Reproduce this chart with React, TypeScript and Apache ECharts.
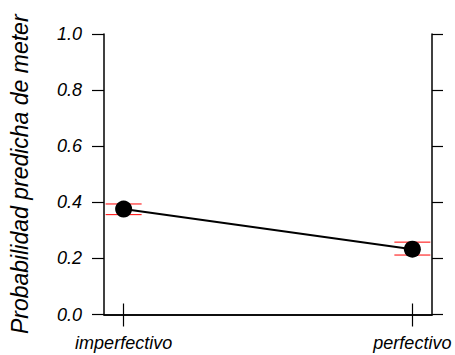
import React, { useEffect, useRef } from "react";
import * as echarts from "echarts";

// Predicted probability of "meter" by aspect, with confidence limits
const categories = ["imperfectivo", "perfectivo"];
const fitted = [0.376, 0.233];
const upper = [0.394, 0.258];
const lower = [0.356, 0.212];
const yTicks = [0, 0.2, 0.4, 0.6, 0.8, 1.0];

const FONT = "Liberation Sans, Arial, Helvetica, sans-serif";

export default function App() {
  const ref = useRef<HTMLDivElement>(null);

  useEffect(() => {
    if (!ref.current) return;
    const chart = echarts.init(ref.current, null, { renderer: "svg" });
    const xPos = categories.map((_, i) => i + 1);

    const tickStyle = { show: true, inside: false, lineStyle: { color: "#000", width: 1.2 } };
    const lineStyle = { show: true, lineStyle: { color: "#000", width: 1.5 } };

    chart.setOption({
      animation: false,
      backgroundColor: "#fff",
      grid: { left: 99, right: 23, top: 34, bottom: 40.5, containLabel: false },
      xAxis: [
        {
          type: "value",
          position: "bottom",
          min: 0.932,
          max: 2.068,
          axisLine: lineStyle,
          splitLine: { show: false },
          axisTick: { ...tickStyle, length: 12, customValues: xPos },
          axisLabel: {
            customValues: xPos,
            margin: 19,
            fontFamily: FONT,
            fontSize: 18,
            fontStyle: "italic",
            color: "#000",
            formatter: (v: number) => categories[Math.round(v) - 1] ?? "",
          },
        },
        {
          type: "value",
          position: "top",
          min: 0.932,
          max: 2.068,
          axisLine: lineStyle,
          splitLine: { show: false },
          axisTick: { ...tickStyle, length: 11, customValues: xPos },
          axisLabel: { show: false },
        },
      ],
      yAxis: [
        {
          type: "value",
          position: "left",
          min: 0,
          max: 1,
          interval: 0.2,
          name: "Probabilidad predicha de meter",
          nameLocation: "middle",
          nameGap: 73,
          nameTextStyle: {
            fontFamily: FONT,
            fontSize: 23,
            fontStyle: "italic",
            color: "#000",
          },
          axisLine: lineStyle,
          splitLine: { show: false },
          axisTick: { ...tickStyle, length: 12, customValues: yTicks },
          axisLabel: {
            margin: 22,
            fontFamily: FONT,
            fontSize: 18,
            fontStyle: "italic",
            color: "#000",
            formatter: (v: number) => v.toFixed(1),
          },
        },
        {
          type: "value",
          position: "right",
          min: 0,
          max: 1,
          interval: 0.2,
          axisLine: lineStyle,
          splitLine: { show: false },
          axisTick: { ...tickStyle, length: 11 },
          axisLabel: { show: false },
        },
      ],
      series: [
        {
          type: "custom",
          z: 1,
          data: xPos.map((x, i) => [x, lower[i], upper[i]]),
          renderItem: (params: any, api: any) => {
            const x = api.value(0);
            const lo = api.coord([x, api.value(1)]);
            const hi = api.coord([x, api.value(2)]);
            const hw = 18;
            const style = { stroke: "#ff0000", lineWidth: 1 };
            return {
              type: "group",
              children: [
                { type: "line", shape: { x1: lo[0] - hw, y1: lo[1], x2: lo[0] + hw, y2: lo[1] }, style },
                { type: "line", shape: { x1: hi[0] - hw, y1: hi[1], x2: hi[0] + hw, y2: hi[1] }, style },
              ],
            };
          },
        },
        {
          type: "line",
          z: 3,
          data: xPos.map((x, i) => [x, fitted[i]]),
          symbol: "circle",
          symbolSize: 17,
          itemStyle: { color: "#000" },
          lineStyle: { color: "#000", width: 2 },
        },
      ],
    });

    return () => chart.dispose();
  }, []);

  return (
    <div
      ref={ref}
      style={{ position: "fixed", left: 0, top: 0, width: 455, height: 355, background: "#fff" }}
    />
  );
}
